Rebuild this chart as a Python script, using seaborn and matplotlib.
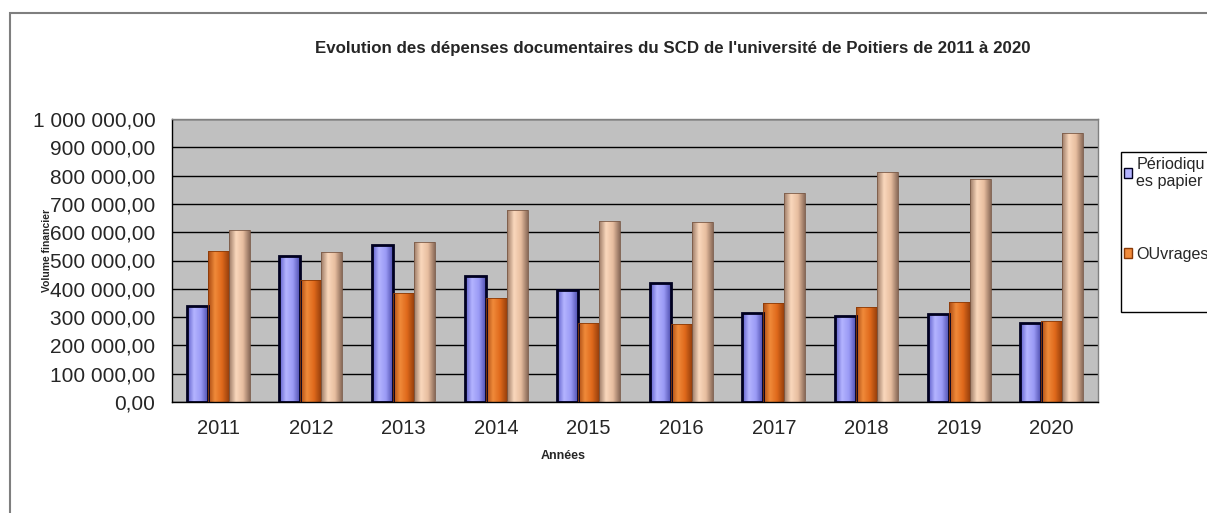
import numpy as np
import pandas as pd
import matplotlib
matplotlib.use("Agg")
import matplotlib.pyplot as plt
import seaborn as sns
from matplotlib.colors import LinearSegmentedColormap
from matplotlib.patches import Patch, Rectangle
from matplotlib.ticker import FuncFormatter, MultipleLocator

# Data (euros)
years = ["2011", "2012", "2013", "2014", "2015", "2016", "2017", "2018", "2019", "2020"]
series_names = ["Périodiques papier", "OUvrages", "Ressources électroniques"]
periodiques = [338000, 516000, 554000, 445000, 395000, 422000, 316000, 303000, 310000, 280000]
ouvrages = [533000, 430000, 384000, 368000, 280000, 274000, 351000, 337000, 354000, 286000]
electroniques = [608000, 530000, 565000, 678000, 640000, 636000, 740000, 814000, 787000, 952000]
legend_labels = ["Périodiqu\nes papier", "OUvrages"]

df = pd.DataFrame({
    "annee": years * 3,
    "serie": [series_names[0]] * 10 + [series_names[1]] * 10 + [series_names[2]] * 10,
    "montant": periodiques + ouvrages + electroniques,
})

sns.set_style("white")
plt.rcParams["font.family"] = ["Liberation Sans", "DejaVu Sans"]

# colours: (flat colour, gradient stops edge -> centre -> edge, outline)
styles = [
    ("#9999ff", ["#5a5ac8", "#b4b4ff", "#9a9af5", "#5050b0"], "#000020", 2.0),
    ("#e8701e", ["#a84810", "#f08a3a", "#e06a1c", "#9a400c"], "#8a3a08", 0.6),
    ("#f0c8a8", ["#9c7a66", "#fad8bc", "#e8bea0", "#8c6c5a"], "#7a5a48", 0.6),
]

W, H = 1207, 513
fig = plt.figure(figsize=(W / 100, H / 100), dpi=100)
ax = fig.add_axes([172 / W, 1 - 402 / H, (1098 - 172) / W, (402 - 119) / H])

sns.barplot(data=df, x="annee", y="montant", hue="serie", hue_order=series_names,
            palette=[s[0] for s in styles], width=0.68, gap=0.0, ax=ax, legend=False,
            saturation=1)

ax.set_facecolor("#c0c0c0")

# cylinder-like shading on every bar
for cont, (flat, stops, edge, lw) in zip(ax.containers, styles):
    cmap = LinearSegmentedColormap.from_list("c", stops)
    grad = np.linspace(0, 1, 64).reshape(1, -1)
    for bar in cont:
        x0, y0 = bar.get_x(), bar.get_y()
        w, h = bar.get_width(), bar.get_height()
        bar.set_facecolor("none")
        bar.set_edgecolor(edge)
        bar.set_linewidth(lw)
        bar.set_zorder(3)
        im = ax.imshow(grad, extent=[x0, x0 + w, y0, y0 + h], aspect="auto",
                       cmap=cmap, zorder=2.5, interpolation="bilinear")
        im.set_clip_path(bar)

ax.set_xlim(-0.5, 9.5)
ax.set_ylim(0, 1000000)

# axes, grid, ticks
ax.yaxis.set_major_locator(MultipleLocator(100000))
ax.yaxis.set_major_formatter(FuncFormatter(
    lambda v, p: f"{v:,.2f}".replace(",", " ").replace(".", ",")))
ax.grid(axis="y", color="black", linewidth=1.0)
ax.set_axisbelow(True)
ax.set_xticks(np.arange(len(years)))
ax.set_xticklabels(years)
ax.set_xticks(np.arange(-0.5, 10, 1), minor=True)
ax.tick_params(axis="x", which="major", length=0, pad=12, labelsize=14.5)
ax.tick_params(axis="x", which="minor", length=6, width=1, color="black", direction="out")
ax.tick_params(axis="y", which="major", length=6, width=1, color="black", direction="out",
               pad=6, labelsize=15)
for side in ["left", "bottom"]:
    ax.spines[side].set_color("black")
    ax.spines[side].set_linewidth(1.0)
for side in ["top", "right"]:
    ax.spines[side].set_color("#808080")
    ax.spines[side].set_linewidth(1.0)

ax.set_xlabel("")
ax.set_ylabel("")
fig.text(563 / W, 1 - 456 / H, "Années", ha="center", va="center",
         fontsize=9, fontweight="bold")
# in the original the axis title sits on top of the tick labels
fig.text(47 / W, 1 - 250 / H, "Volume financier", ha="center", va="center",
         rotation=90, fontsize=7.5, fontweight="bold")

fig.text(673 / W, 1 - 48 / H,
         "Evolution des dépenses documentaires du SCD de l'université de Poitiers de 2011 à 2020",
         ha="center", va="center", fontsize=12.2, fontweight="bold")

# legend (clipped by the figure edge like in the original)
handles = [Patch(facecolor=styles[i][1][1], edgecolor=styles[i][2], linewidth=1)
           for i in range(2)]
fig.patches.append(Rectangle((1121 / W, 1 - 312 / H), 120 / W, 160 / H,
                             transform=fig.transFigure, facecolor="white",
                             edgecolor="black", linewidth=1, zorder=1))
leg = fig.legend(handles, legend_labels, loc="upper left",
                 bbox_to_anchor=(1122 / W, 1 - 155 / H), frameon=False,
                 fontsize=11.6, handlelength=0.55, handleheight=0.55,
                 handletextpad=0.25, labelspacing=3.6, borderaxespad=0, borderpad=0.1)

# outer chart frame (runs off the right and bottom of the picture)
fig.patches.append(Rectangle((10 / W, -0.2), 1.2, 1.2 - 13 / H,
                             transform=fig.transFigure, facecolor="none",
                             edgecolor="#7f7f7f", linewidth=1.5, zorder=0))

fig.savefig("out.png", dpi=100)
